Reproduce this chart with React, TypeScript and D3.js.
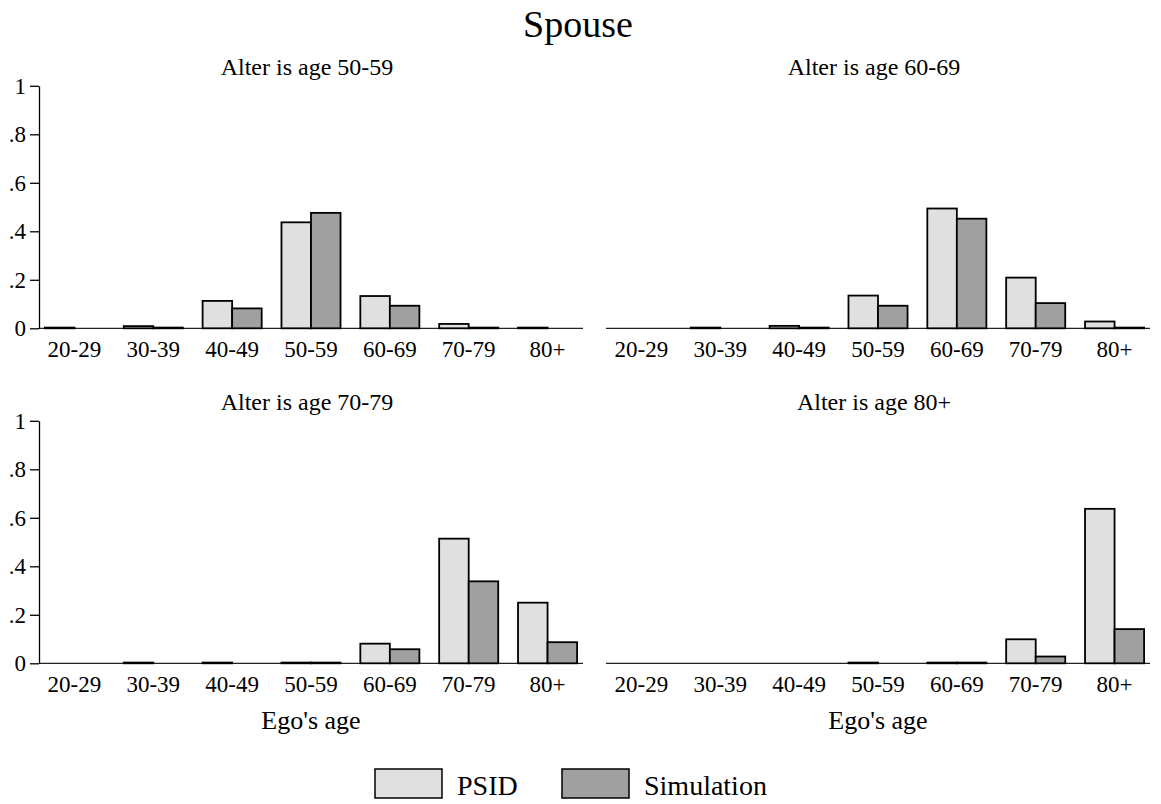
import * as d3 from 'd3'
import { useEffect, useRef } from 'react'

// age groups of ego (x categories)
const ageGroups = ['20-29', '30-39', '40-49', '50-59', '60-69', '70-79', '80+']
const seriesNames = ['PSID', 'Simulation']
const panelTitles = ['Alter is age 50-59', 'Alter is age 60-69', 'Alter is age 70-79', 'Alter is age 80+']

// shares, one pair of arrays per panel
const psid5059 = [0.003, 0.009, 0.113, 0.437, 0.133, 0.018, 0.003]
const sim5059 = [0, 0.003, 0.082, 0.476, 0.093, 0.003, 0]
const psid6069 = [0, 0.003, 0.01, 0.135, 0.494, 0.209, 0.028]
const sim6069 = [0, 0, 0.003, 0.093, 0.452, 0.104, 0.003]
const psid7079 = [0, 0.003, 0.003, 0.003, 0.081, 0.514, 0.25]
const sim7079 = [0, 0, 0, 0.003, 0.058, 0.338, 0.087]
const psid80 = [0, 0, 0, 0.003, 0.003, 0.099, 0.637]
const sim80 = [0, 0, 0, 0, 0.003, 0.028, 0.141]

const yTicks = [0, 0.2, 0.4, 0.6, 0.8, 1]
const yTickLabels = ['0', '.2', '.4', '.6', '.8', '1']

const colors = ['#e0e0e0', '#a0a0a0']
const font = '"Liberation Serif", "Times New Roman", serif'

const Chart = () => {
  const ref = useRef<SVGSVGElement>(null)

  useEffect(() => {
    document.body.style.margin = '0'
    const width = 1161
    const height = 804
    const svg = d3.select(ref.current)
    svg.selectAll('*').remove()
    svg.attr('width', width).attr('height', height).style('font-family', font)

    const psid = [psid5059, psid6069, psid7079, psid80]
    const sim = [sim5059, sim6069, sim7079, sim80]

    const plotW = 544
    const plotH = 242.5
    const colX = [39, 606]
    const rowTop = [85.8, 420.8]

    // Title
    svg
      .append('text')
      .attr('x', 578)
      .attr('y', 37)
      .attr('text-anchor', 'middle')
      .style('font-size', '38px')
      .text('Spouse')

    panelTitles.forEach((title, p) => {
      const col = p % 2
      const row = Math.floor(p / 2)
      const x0 = colX[col]
      const top = rowTop[row]
      const g = svg.append('g')

      const x = d3
        .scaleBand()
        .domain(ageGroups)
        .range([x0, x0 + plotW])
        .paddingInner(0.251)
        .paddingOuter(0.075)
      const xs = d3.scaleBand().domain(seriesNames).range([0, x.bandwidth()]).padding(0)
      const y = d3.scaleLinear().domain([0, 1]).range([top + plotH, top])

      // subtitle
      g.append('text')
        .attr('x', x0 + plotW / 2 - 4)
        .attr('y', top - 11)
        .attr('text-anchor', 'middle')
        .style('font-size', '24px')
        .text(title)

      // baseline
      g.append('line')
        .attr('x1', x0)
        .attr('x2', x0 + plotW)
        .attr('y1', y(0))
        .attr('y2', y(0))
        .attr('stroke', '#222')
        .attr('stroke-width', 1.2)

      // Y axis on left column only
      if (col === 0) {
        const ax = g
          .append('g')
          .attr('transform', `translate(${x0}, 0)`)
          .call(
            d3
              .axisLeft(y)
              .tickValues(yTicks)
              .tickFormat((d, i) => yTickLabels[i])
              .tickSize(9)
              .tickSizeOuter(0)
              .tickPadding(4)
          )
        ax.select('.domain').attr('stroke', '#000').attr('stroke-width', 1.3)
        ax.selectAll('.tick line').attr('stroke', '#000').attr('stroke-width', 1.3)
        ax.selectAll('text')
          .attr('fill', '#000')
          .style('font-size', '23px')
          .style('font-family', font)
      }

      // Bars
      const groups = [psid[p], sim[p]]
      groups.forEach((vals, s) => {
        g.append('g')
          .selectAll('rect')
          .data(vals)
          .join('rect')
          .attr('x', (d, i) => (x(ageGroups[i]) as number) + (xs(seriesNames[s]) as number))
          .attr('y', (d) => y(d))
          .attr('width', xs.bandwidth())
          .attr('height', (d) => y(0) - y(d))
          .attr('fill', colors[s])
          .attr('stroke', '#000')
          .attr('stroke-width', 1.8)
      })

      // category labels
      g.append('g')
        .selectAll('text')
        .data(ageGroups)
        .join('text')
        .attr('x', (d) => (x(d) as number) + x.bandwidth() / 2)
        .attr('y', y(0) + 29)
        .attr('text-anchor', 'middle')
        .style('font-size', '23px')
        .text((d) => d)

      if (row === 1) {
        g.append('text')
          .attr('x', x0 + plotW / 2)
          .attr('y', y(0) + 66)
          .attr('text-anchor', 'middle')
          .style('font-size', '26px')
          .text("Ego's age")
      }
    })

    // Legend
    const legendX = [375, 562]
    const legend = svg.append('g')
    seriesNames.forEach((name, s) => {
      legend
        .append('rect')
        .attr('x', legendX[s])
        .attr('y', 769)
        .attr('width', 67)
        .attr('height', 29)
        .attr('fill', colors[s])
        .attr('stroke', '#000')
        .attr('stroke-width', 1.5)
      legend
        .append('text')
        .attr('x', legendX[s] + 82)
        .attr('y', 795)
        .style('font-size', '28px')
        .text(name)
    })
  }, [])

  return <svg ref={ref} style={{ display: 'block' }}></svg>
}

export default function App() {
  return <Chart />
}
